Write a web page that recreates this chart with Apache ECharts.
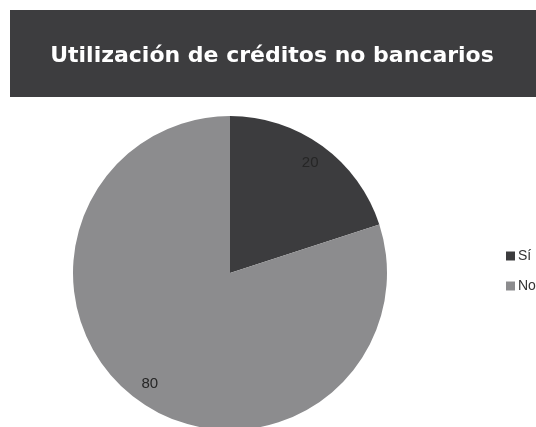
<!DOCTYPE html>
<html>
<head>
<meta charset="utf-8">
<script src="https://cdn.jsdelivr.net/npm/echarts@6/dist/echarts.min.js"></script>
<style>
  html, body { margin: 0; padding: 0; background: #fff; }
  #chart { width: 536px; height: 427px; }
</style>
</head>
<body>
<div id="chart"></div>
<script>
// Survey answers on use of non-bank credit
const titleText = 'Utilización de créditos no bancarios';
const categories = ['Sí', 'No'];
const values = [20, 80];
const sliceColors = ['#3c3c3e', '#8c8c8e'];

const pieData = categories.map((name, i) => ({
  name: name,
  value: values[i],
  itemStyle: { color: sliceColors[i] }
}));

const chart = echarts.init(document.getElementById('chart'), null, { renderer: 'canvas' });

const cx = 230, cy = 273, r = 157;

chart.setOption({
  animation: false,
  backgroundColor: '#ffffff',
  graphic: [{
    type: 'rect',
    shape: { x: 10, y: 10, width: 540, height: 87 },
    style: { fill: '#3d3d3f' },
    z: 0
  }],
  title: {
    text: titleText,
    left: 267,
    top: 40,
    textAlign: 'center',
    textStyle: {
      color: '#ffffff',
      fontFamily: 'DejaVu Sans',
      fontWeight: 'bold',
      fontSize: 22
    },
    z: 5
  },
  legend: {
    orient: 'vertical',
    left: 501,
    top: 244,
    icon: 'rect',
    itemWidth: 9,
    itemHeight: 9,
    itemGap: 16,
    data: categories,
    textStyle: { color: '#333', fontSize: 14, fontFamily: 'Liberation Sans', padding: [0, 0, 0, -2] }
  },
  series: [
    {
      type: 'pie',
      center: [cx, cy],
      radius: [0, r],
      startAngle: 90,
      clockwise: true,
      data: pieData,
      label: { show: false },
      labelLine: { show: false },
      itemStyle: { borderWidth: 0 },
      emphasis: { disabled: true }
    },
    {
      // transparent ring used only to place the value labels near the rim
      type: 'pie',
      center: [cx, cy],
      radius: [r * 0.7, r],
      startAngle: 90,
      clockwise: true,
      silent: true,
      data: categories.map((name, i) => ({ name: name, value: values[i] })),
      itemStyle: { color: 'rgba(0,0,0,0)' },
      label: {
        show: true,
        position: 'inside',
        formatter: '{c}',
        color: '#262626',
        fontFamily: 'Liberation Sans',
        fontSize: 15
      },
      labelLine: { show: false },
      emphasis: { disabled: true }
    }
  ]
});
</script>
</body>
</html>
